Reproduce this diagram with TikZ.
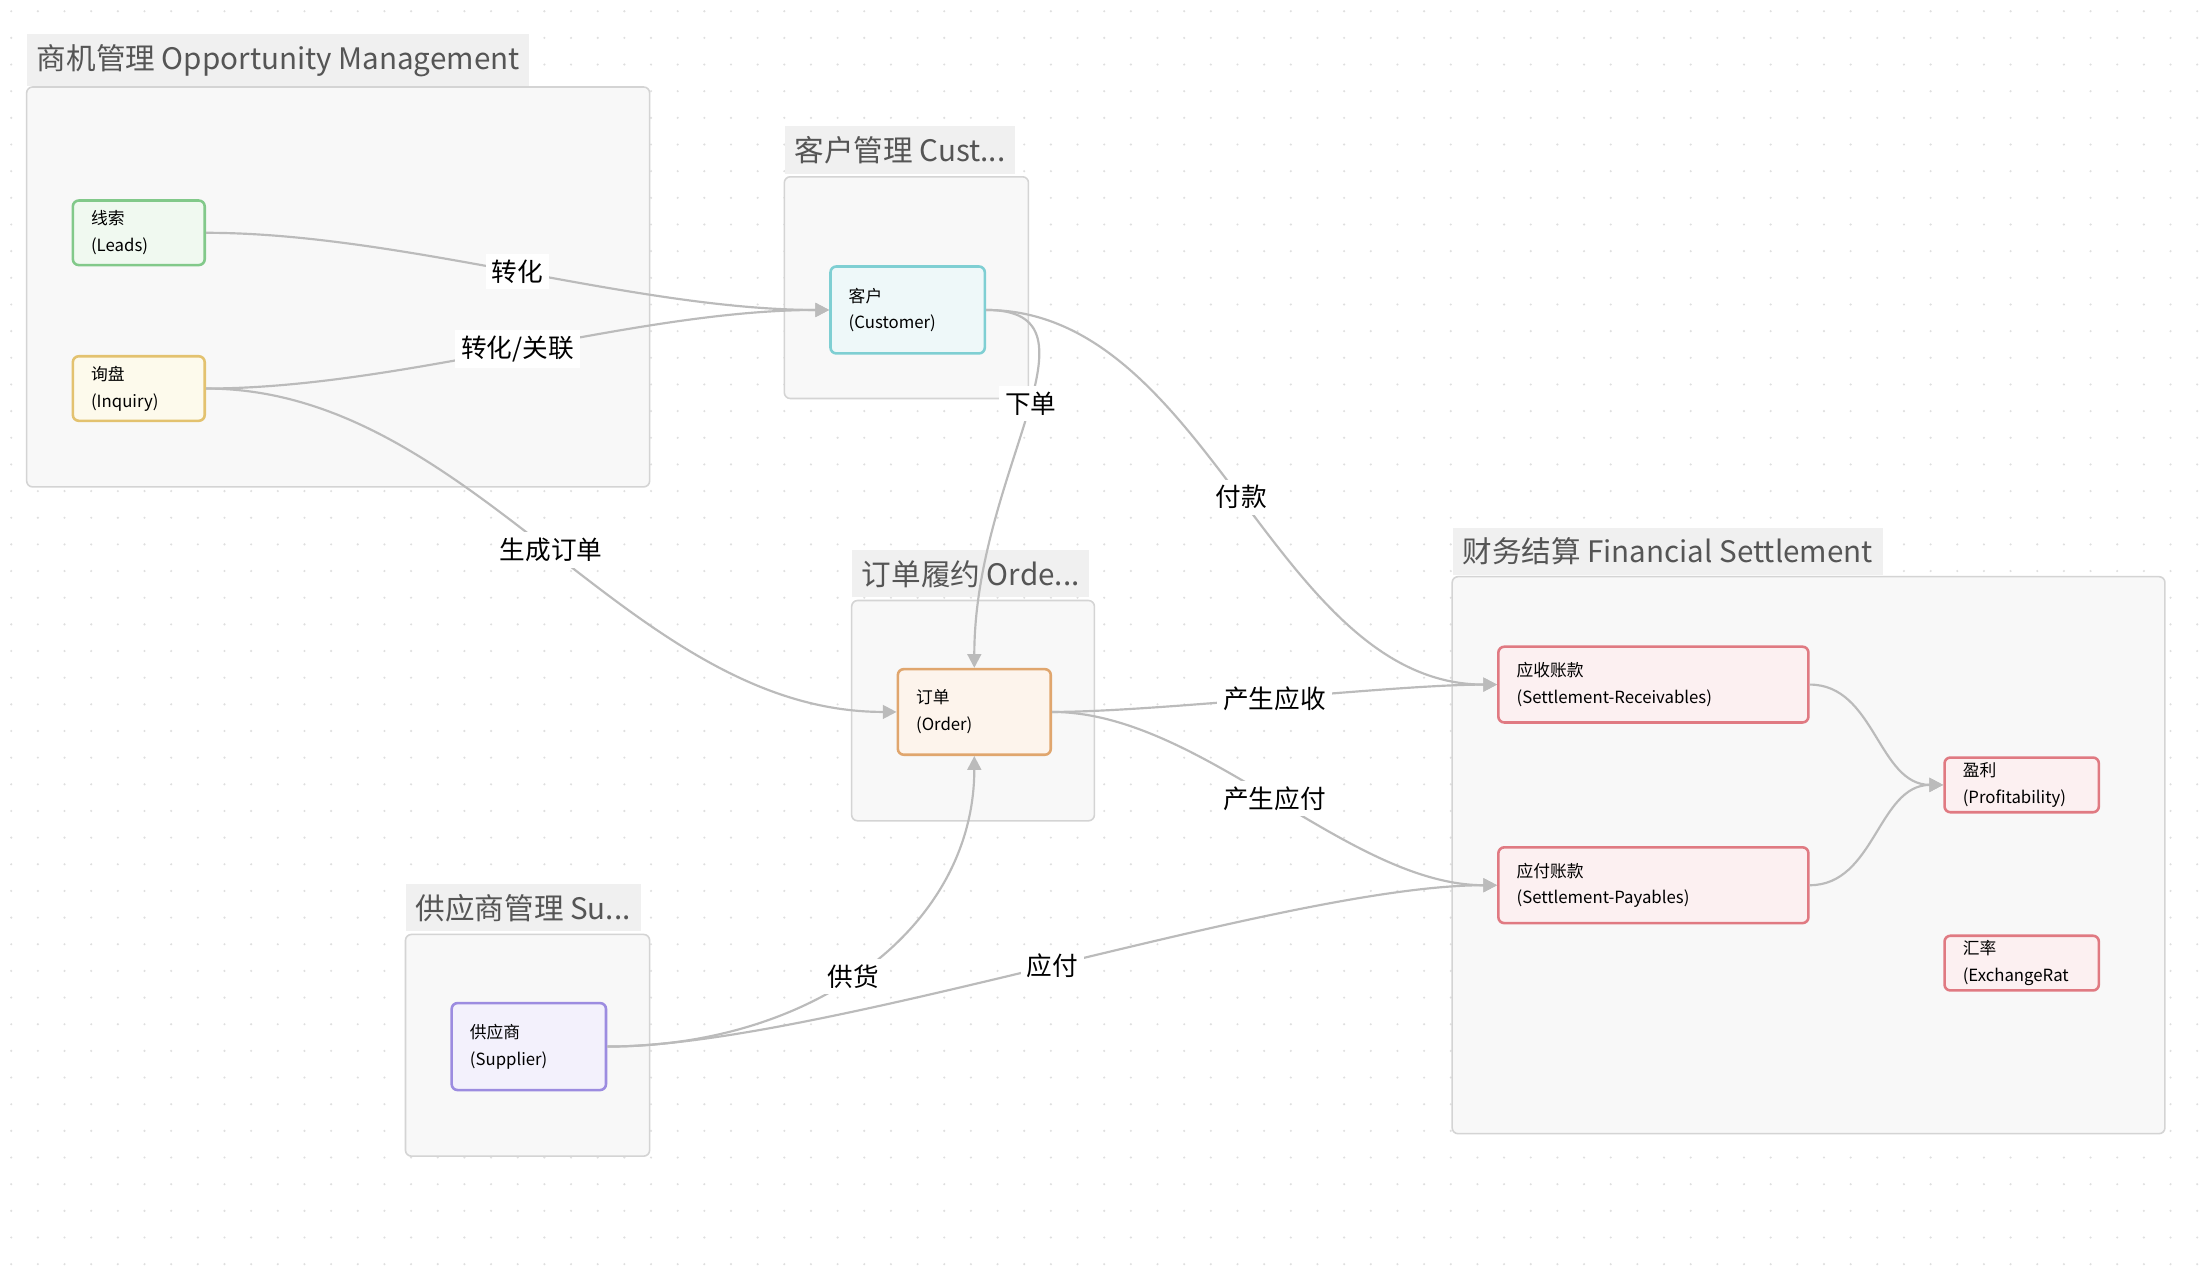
\documentclass[tikz,border=0pt]{standalone}
\usepackage{fontspec}
\setmainfont{Noto Sans CJK SC}
\usepackage{xcolor}
\usetikzlibrary{arrows.meta,calc}

\definecolor{edgegray}{HTML}{BBBBBB}
\definecolor{grpfill}{HTML}{F8F8F8}
\definecolor{grpline}{HTML}{D4D4D4}
\definecolor{titlebg}{HTML}{F0F0F0}
\definecolor{titletxt}{HTML}{555555}
\definecolor{leadline}{HTML}{82C98A}   \definecolor{leadfill}{HTML}{F0F9F0}
\definecolor{inqline}{HTML}{E3C26F}    \definecolor{inqfill}{HTML}{FDFAEC}
\definecolor{custline}{HTML}{7FCFD3}   \definecolor{custfill}{HTML}{EEF8F9}
\definecolor{ordline}{HTML}{E0A66E}    \definecolor{ordfill}{HTML}{FDF4EC}
\definecolor{supline}{HTML}{9C8CE0}    \definecolor{supfill}{HTML}{F3F1FC}
\definecolor{finline}{HTML}{E07A82}    \definecolor{finfill}{HTML}{FCF0F1}

\tikzset{
  grp/.style={draw=grpline, fill=grpfill, rounded corners=3pt, line width=0.8pt},
  grptitle/.style={fill=titlebg, text=titletxt, font=\fontsize{15}{17}\selectfont, anchor=west, inner sep=5pt},
  item/.style={draw=#1line, fill=#1fill, rounded corners=3pt, line width=1.3pt, anchor=north west, align=left,
    font=\fontsize{8.5}{13.5}\selectfont, inner ysep=0pt, inner xsep=13*0.025cm},
  rel/.style={draw=edgegray, line width=1.1pt, -{Triangle[length=7pt,width=7pt]}},
  lbl/.style={fill=white, font=\fontsize{13}{15}\selectfont, inner sep=3pt}
}

\begin{document}
\begin{tikzpicture}[x=0.025cm, y=-0.025cm]
\useasboundingbox (0,0) rectangle (1568,916);
\fill[white] (0,0) rectangle (1568,916);

% dot grid
\foreach \i in {0,...,82} \foreach \j in {0,...,48}
  \fill[gray!25] (\i*19+8, \j*19+8) circle (0.6pt);

% groups
\draw[grp] (19,62) rectangle (463,347);
\node[grptitle] (t1) at (19,43) {商机管理 Opportunity Management};
\draw[grp] (559,126) rectangle (733,284);
\node[grptitle] (t2) at (559,107) {客户管理 Cust...};
\draw[grp] (607,428) rectangle (780,585);
\node[grptitle] (t3) at (607,409) {订单履约 Orde...};
\draw[grp] (289,666) rectangle (463,824);
\node[grptitle] (t4) at (289,647) {供应商管理 Su...};
\draw[grp] (1035,411) rectangle (1543,808);
\node[grptitle] (t5) at (1035,393) {财务结算 Financial Settlement};

% nodes
\node[item=lead, minimum width=94*0.025cm, minimum height=46*0.025cm, text width=68*0.025cm] (leads) at (51,142) {线索\\(Leads)};
\node[item=inq, minimum width=94*0.025cm, minimum height=46*0.025cm, text width=68*0.025cm] (inquiry) at (51,253) {询盘\\(Inquiry)};
\node[item=cust, minimum width=110*0.025cm, minimum height=62*0.025cm, text width=84*0.025cm] (customer) at (591,189) {客户\\(Customer)};
\node[item=ord, minimum width=109*0.025cm, minimum height=61*0.025cm, text width=83*0.025cm] (order) at (639,476) {订单\\(Order)};
\node[item=sup, minimum width=110*0.025cm, minimum height=62*0.025cm, text width=84*0.025cm] (supplier) at (321,714) {供应商\\(Supplier)};
\node[item=fin, minimum width=221*0.025cm, minimum height=54*0.025cm, text width=195*0.025cm] (recv) at (1067,460) {应收账款\\(Settlement-Receivables)};
\node[item=fin, minimum width=221*0.025cm, minimum height=54*0.025cm, text width=195*0.025cm] (pay) at (1067,603) {应付账款\\(Settlement-Payables)};
\node[item=fin, minimum width=110*0.025cm, minimum height=39*0.025cm, text width=84*0.025cm] (profit) at (1385,539) {盈利\\(Profitability)};
\node[item=fin, minimum width=110*0.025cm, minimum height=39*0.025cm, text width=84*0.025cm] (rate) at (1385,666) {汇率\\(ExchangeRat};

% connectors
\draw[rel] (leads.east) to[out=0, in=180, looseness=0.8] node[lbl, pos=0.5] {转化} (customer.west);
\draw[rel] (inquiry.east) to[out=0, in=180, looseness=0.8] node[lbl, pos=0.5] {转化/关联} (customer.west);
\draw[rel] (inquiry.east) to[out=0, in=180, looseness=0.9] node[lbl, pos=0.5] {生成订单} (order.west);
\draw[rel] (customer.east) .. controls +(90,0) and +(0,-140) .. node[lbl, pos=0.47] {下单} (order.north);
\draw[rel] (customer.east) to[out=0, in=180, looseness=0.9] node[lbl, pos=0.5] {付款} (recv.west);
\draw[rel] (order.east) to[out=0, in=180, looseness=0.6] node[lbl, pos=0.5] {产生应收} (recv.west);
\draw[rel] (order.east) to[out=0, in=180, looseness=0.8] node[lbl, pos=0.5] {产生应付} (pay.west);
\draw[rel] (supplier.east) .. controls +(150,0) and +(0,120) .. node[lbl, pos=0.46] {供货} (order.south);
\draw[rel] (supplier.east) to[out=0, in=180, looseness=0.6] node[lbl, pos=0.5] {应付} (pay.west);
\draw[rel] (recv.east) to[out=0, in=180] (profit.west);
\draw[rel] (pay.east) to[out=0, in=180] (profit.west);
\end{tikzpicture}
\end{document}
